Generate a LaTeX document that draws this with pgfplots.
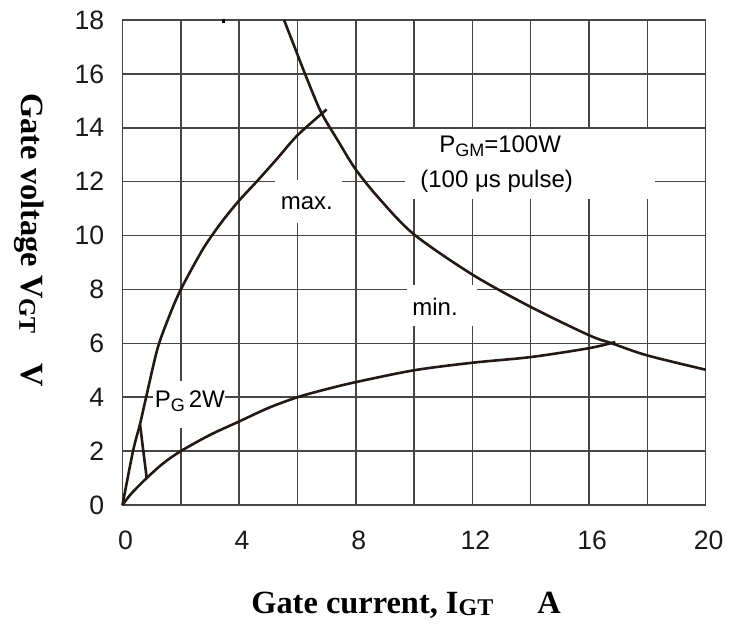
\documentclass[border=0pt]{standalone}
\usepackage{pgfplots}
\pgfplotsset{compat=1.18}
\usepackage{fontspec}
\setmainfont{Liberation Sans}
\newfontfamily\timesfont{Liberation Serif}
\definecolor{gridc}{HTML}{4A4444}
\definecolor{curvec}{HTML}{231815}
\begin{document}
\begin{tikzpicture}[x=1pt,y=1pt]
\useasboundingbox (-61.25,-59.5) rectangle (313.25,252.5);
\begin{axis}[
  at={(0,0)}, anchor=south west,
  width=291.6pt, height=242.5pt, scale only axis,
  xmin=0, xmax=20, ymin=0, ymax=18,
  xtick={0,4,...,20}, minor xtick={2,6,...,18},
  ytick={0,2,...,18},
  grid=both,
  major grid style={gridc, line width=0.75pt},
  minor grid style={gridc, line width=0.75pt},
  axis line style={gridc, line width=0.75pt},
  major tick length=0pt, minor tick length=0pt,
  tick style={draw=none},
  /pgf/number format/assume math mode=true,
  ticklabel style={font=\fontsize{13.3}{15}\selectfont, text=black!90},
  xticklabel style={yshift=-9.6pt, xshift=1.5pt},
  yticklabel style={xshift=-5.6pt},
  clip=false,
]
% white boxes breaking the grid
\fill[white] (axis cs:9.69,11.34) rectangle (axis cs:18.26,13.95);
\fill[white] (axis cs:5.23,10.47) rectangle (axis cs:7.52,12.05);
\fill[white] (axis cs:9.75,6.63) rectangle (axis cs:12.15,8.15);
\fill[white] (axis cs:1.06,2.85) rectangle (axis cs:3.5,4.62);
\node[font=\fontsize{12}{14}\selectfont] at (axis cs:12.95,13.32) {P\raisebox{-2pt}{\fontsize{9}{10}\selectfont GM}=100W};
\node[font=\fontsize{12}{14}\selectfont] at (axis cs:12.83,12.02) {(100 μs pulse)};
\node[font=\fontsize{12}{14}\selectfont] at (axis cs:6.32,11.22) {max.};
\node[font=\fontsize{12}{14}\selectfont] at (axis cs:10.72,7.37) {min.};
\node[font=\fontsize{12}{14}\selectfont] at (axis cs:2.31,3.84) {P\raisebox{-2pt}{\fontsize{9}{10}\selectfont G}\,2W};
% max curve
\addplot[curvec, line width=1.3pt, smooth] coordinates {
(0,0) (0.36,2) (0.6,3) (0.8,3.95) (1.2,5.8) (1.6,7.0) (2,8) (2.76,9.5)
(3.4,10.5) (4,11.3) (4.6,12) (5.3,12.85) (6,13.72) (7.0,14.68)};
% kink
\addplot[curvec, line width=1.3pt] coordinates {(0.6,3.0) (0.83,1.0)};
% min curve
\addplot[curvec, line width=1.3pt, smooth] coordinates {
(0,0) (0.3,0.42) (0.83,1.0) (1.4,1.55) (2,2) (3,2.6) (4,3.1) (5,3.6)
(6,4.0) (7,4.3) (8,4.56) (10,5.0) (12,5.28) (14,5.49) (16,5.82) (16.9,6.05)};
% PGM curve
\addplot[curvec, line width=1.3pt, smooth] coordinates {
(5.54,18) (5.9,17) (6.26,16) (6.8,14.6) (7.4,13.5) (8,12.45) (8.83,11.34)
(10,10.04) (12,8.55) (14,7.35) (16,6.3) (16.78,6.0) (18,5.55) (20,5.02)};
% stray mark on top edge
\addplot[black, line width=1.2pt] coordinates {(3.46,17.88) (3.46,18.05)};
\end{axis}
\node[rotate=-90, font=\timesfont\bfseries\fontsize{16.2}{19}\selectfont] at (-46.75,132.5)
  {Gate voltage V\raisebox{-1pt}{\fontsize{12}{12}\selectfont GT}\hspace{15pt}V};
\node[anchor=base, font=\timesfont\bfseries\fontsize{16.2}{19}\selectfont] at (141.75,-54.5)
  {Gate current, I\raisebox{-1pt}{\fontsize{12}{12}\selectfont GT}\hspace{22pt}A};
\end{tikzpicture}
\end{document}
